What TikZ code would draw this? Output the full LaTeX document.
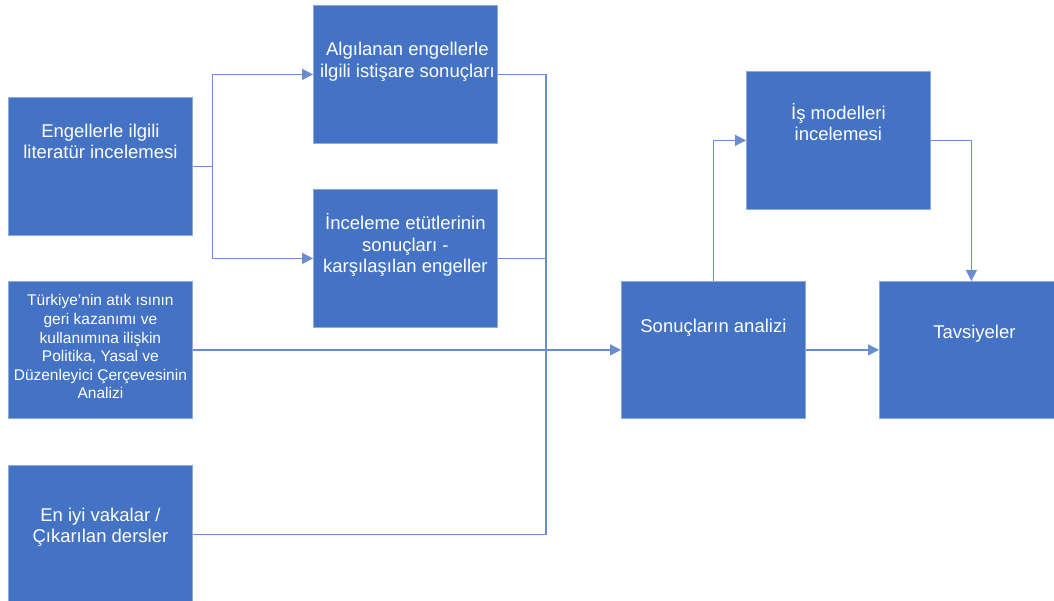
\documentclass[tikz,border=0pt]{standalone}
\usepackage{fontspec}
\setmainfont{Liberation Sans}
\usetikzlibrary{arrows.meta,calc}
\definecolor{boxfill}{HTML}{4472C4}
\definecolor{boxedge}{HTML}{8EA9DB}
\definecolor{linec}{HTML}{6A8CD0}
\begin{document}
\begin{tikzpicture}[x=1pt,y=-1pt,
 blk/.style={draw=boxedge, line width=0.8pt, fill=boxfill, minimum width=184pt, minimum height=138pt, inner sep=0pt, anchor=north west},
 txt/.style={text=white, align=center, font=\fontsize{18.5}{21.5}\selectfont, inner sep=0pt},
 smalltxt/.style={txt, font=\fontsize{15.5}{18.6}\selectfont},
 conn/.style={draw=linec, line width=1.3pt},
 arr/.style={conn, -{Triangle[length=11pt,width=11pt]}}
]
\clip (0,0) rectangle (1054,601);
\fill[white] (0,0) rectangle (1054,601);
% boxes
\node[blk] (lit) at (8,97) {};
\node[blk] (alg) at (313,5) {};
\node[blk] (inc) at (313,189) {};
\node[blk, minimum height=137pt] (tur) at (8,281) {};
\node[blk] (eni) at (8,465) {};
\node[blk, minimum height=137pt] (son) at (621,281) {};
\node[blk] (ism) at (746,71) {};
\node[blk, minimum height=137pt] (tav) at (879,281) {};
% texts
\node[txt] (litT) at ([yshift=25pt]lit.center) {Engellerle ilgili\\literatür incelemesi};
\node[txt] (algT) at ([yshift=12.5pt,xshift=2pt]alg.center) {Algılanan engellerle\\ilgili istişare sonuçları};
\node[txt] (incT) at ([yshift=13pt]inc.center) {İnceleme etütlerinin\\sonuçları -\\karşılaşılan engeller};
\node[smalltxt] (turT) at ([yshift=3pt]tur.center) {Türkiye’nin atık ısının\\geri kazanımı ve\\kullanımına ilişkin\\Politika, Yasal ve\\Düzenleyici Çerçevesinin\\Analizi};
\node[txt] (eniT) at ([yshift=7pt]eni.center) {En iyi vakalar /\\Çıkarılan dersler};
\node[txt] (sonT) at ([yshift=22pt]son.center) {Sonuçların analizi};
\node[txt] (ismT) at ([yshift=18.5pt]ism.center) {İş modelleri\\incelemesi};
\node[txt] (tavT) at ([yshift=16pt,xshift=3pt]tav.center) {Tavsiyeler};
% connectors
\draw[conn] (lit.east) -- ++(20,0) coordinate (split);
\coordinate (join) at (546,350);
\draw[arr] (split) |- (alg.west);
\draw[arr] (split) |- (inc.west);
\draw[conn] (alg.east) -| (join);
\draw[conn] (inc.east) -| (join);
\draw[conn] (eni.east) -| (join);
\draw[arr] (tur.east) -- (son.west);
\draw[arr] (son.east) -- (tav.west);
\draw[arr] (son.north) |- (ism.west);
\draw[arr] (ism.east) -| (tav.north);
\end{tikzpicture}
\end{document}
